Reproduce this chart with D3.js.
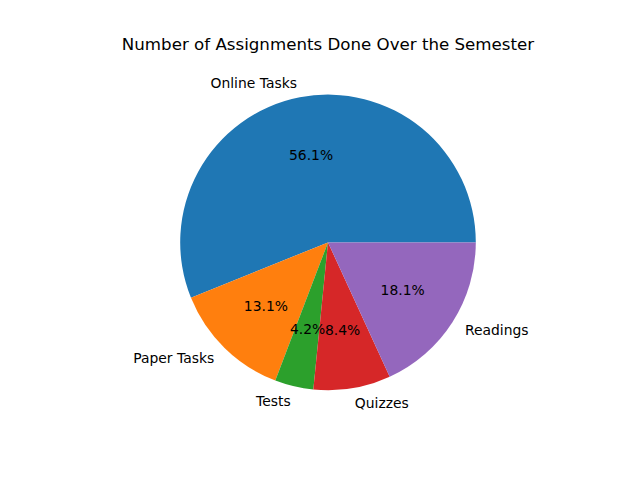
<!DOCTYPE html>
<html>
<head>
<meta charset="utf-8">
<script src="https://cdn.jsdelivr.net/npm/d3@7"></script>
<style>
body { margin: 0; background: #fff; }
text { font-family: "DejaVu Sans", sans-serif; }
</style>
</head>
<body>
<div id="chart"></div>
<script>
var labels = ["Online Tasks", "Paper Tasks", "Tests", "Quizzes", "Readings"];
var counts = [133, 31, 10, 20, 43];
var colors = ["#1f77b4", "#ff7f0e", "#2ca02c", "#d62728", "#9467bd"];

var width = 640, height = 480;
var cx = 328, cy = 242.4, r = 147.8;

var svg = d3.select("#chart").append("svg")
    .attr("width", width)
    .attr("height", height);

svg.append("text")
    .attr("x", cx)
    .attr("y", 49.5)
    .attr("text-anchor", "middle")
    .style("font-size", "16.67px")
    .text("Number of Assignments Done Over the Semester");

var data = labels.map(function (d, i) { return { label: d, value: counts[i], color: colors[i] }; });
var total = d3.sum(counts);

// start at 3 o'clock and go counterclockwise, like matplotlib
var pie = d3.pie()
    .sort(null)
    .value(function (d) { return d.value; })
    .startAngle(Math.PI / 2)
    .endAngle(Math.PI / 2 - 2 * Math.PI);

var arc = d3.arc().innerRadius(0).outerRadius(r);

var g = svg.append("g").attr("transform", "translate(" + cx + "," + cy + ")");
var slices = pie(data);

g.selectAll("path")
    .data(slices)
    .enter()
    .append("path")
    .attr("d", arc)
    .attr("fill", function (d) { return d.data.color; });

function mid(d) { return (d.startAngle + d.endAngle) / 2; }

g.selectAll("text.label")
    .data(slices)
    .enter()
    .append("text")
    .attr("class", "label")
    .attr("x", function (d) { return 1.1 * r * Math.sin(mid(d)); })
    .attr("y", function (d) { return -1.1 * r * Math.cos(mid(d)); })
    .attr("dy", "0.36em")
    .attr("text-anchor", function (d) { return Math.sin(mid(d)) > 0 ? "start" : "end"; })
    .style("font-size", "13.9px")
    .text(function (d) { return d.data.label; });

g.selectAll("text.pct")
    .data(slices)
    .enter()
    .append("text")
    .attr("class", "pct")
    .attr("x", function (d) { return 0.6 * r * Math.sin(mid(d)); })
    .attr("y", function (d) { return -0.6 * r * Math.cos(mid(d)); })
    .attr("dy", "0.36em")
    .attr("text-anchor", "middle")
    .style("font-size", "13.9px")
    .text(function (d) { return (d.data.value / total * 100).toFixed(1) + "%"; });
</script>
</body>
</html>
